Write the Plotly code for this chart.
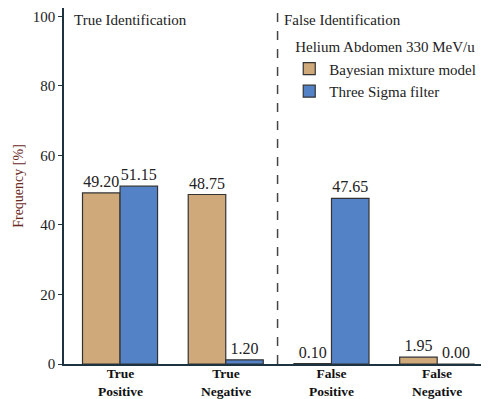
import plotly.graph_objects as go

categories = ["True Positive", "True Negative", "False Positive", "False Negative"]
tick_lines = [("True", "Positive"), ("True", "Negative"), ("False", "Positive"), ("False", "Negative")]
bayesian = [49.20, 48.75, 0.10, 1.95]
three_sigma = [51.15, 1.20, 47.65, 0.00]
series_names = ["Bayesian mixture model", "Three Sigma filter"]
legend_title = "Helium Abdomen 330 MeV/u"
section_labels = ["True Identification", "False Identification"]
y_ticks = [0, 20, 40, 60, 80, 100]

FONT = "Liberation Serif"
AX = "#1d3340"
x_idx = list(range(len(categories)))

fig = go.Figure()
for name, vals, col in [(series_names[0], bayesian, "#CFA97A"),
                        (series_names[1], three_sigma, "#5482C6")]:
    fig.add_trace(go.Bar(
        x=x_idx, y=vals, name=name,
        marker=dict(color=col, line=dict(color="#333333", width=1.2)),
        text=[f"{v:.2f}" for v in vals], textposition="outside",
        textfont=dict(family=FONT, size=16, color="#222"),
        cliponaxis=False,
    ))

fig.add_shape(type="line", x0=1.49, x1=1.49, y0=0, y1=1, xref="x", yref="paper",
              line=dict(color="#444", width=1.5, dash="dash"))

fig.add_annotation(x=0.018, y=0.995, xref="paper", yref="paper", text=section_labels[0],
                   showarrow=False, xanchor="left", yanchor="top",
                   font=dict(family=FONT, size=15, color="#222"))
fig.add_annotation(x=0.512, y=0.995, xref="paper", yref="paper", text=section_labels[1],
                   showarrow=False, xanchor="left", yanchor="top",
                   font=dict(family=FONT, size=15, color="#222"))

# category labels (two lines each)
for xi, (l1, l2) in zip(x_idx, tick_lines):
    fig.add_annotation(x=xi, y=0, xref="x", yref="paper", text=f"<b>{l1}<br>{l2}</b>",
                       showarrow=False, yanchor="top", yshift=0,
                       font=dict(family=FONT, size=13.5, color="#111"))

fig.update_layout(
    width=481, height=391,
    margin=dict(l=56, r=0, t=0, b=35),
    plot_bgcolor="white", paper_bgcolor="white",
    barmode="group", bargap=0.29, bargroupgap=0,
    font=dict(family=FONT, size=14, color="#222"),
    legend=dict(title=dict(text=legend_title, side="top center",
                           font=dict(family=FONT, size=15)),
                x=0.53, y=0.93, xanchor="left", yanchor="top",
                bgcolor="rgba(0,0,0,0)", font=dict(family=FONT, size=15),
                tracegroupgap=0),
    xaxis=dict(range=[-0.53, 3.49], tickmode="array", tickvals=x_idx, showticklabels=False,
               showline=True, linecolor=AX, linewidth=1.5, mirror=True,
               ticks="", showgrid=False, automargin=False),
    yaxis=dict(range=[0, 102.4], tickvals=y_ticks, showline=True, linecolor=AX, linewidth=1.5,
               ticks="outside", ticklen=4, tickcolor=AX, showgrid=False, zeroline=False,
               automargin=False,
               tickfont=dict(family=FONT, size=15, color="#222"),
               title=dict(text="Frequency [%]", font=dict(family=FONT, size=14, color="#6b2a1f"),
                          standoff=6)),
)

fig.write_html("out.html")
